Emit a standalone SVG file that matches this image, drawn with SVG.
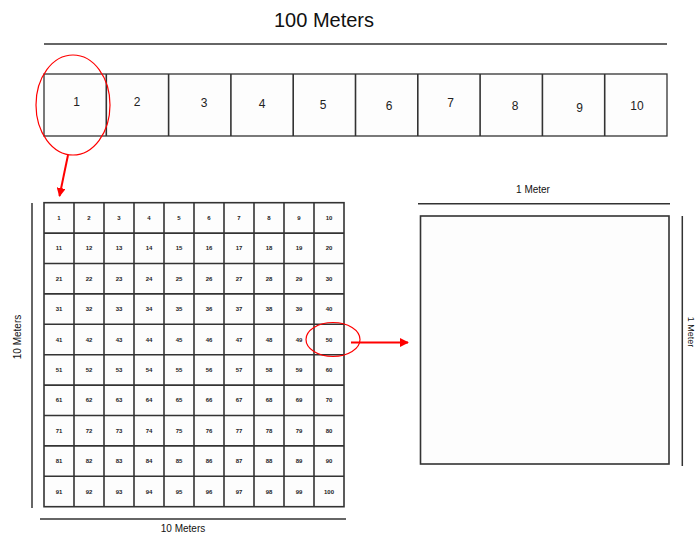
<svg xmlns="http://www.w3.org/2000/svg" width="696" height="535" viewBox="0 0 696 535">
<style>
.t{font-family:"Liberation Sans",Arial,sans-serif;fill:#111}
.box{fill:#fdfdfd;stroke:#333;stroke-width:1.3}
.ln{stroke:#333;stroke-width:1.5;fill:none}
.gl{stroke:#333;stroke-width:1.6}
.n{font-family:"Liberation Sans",Arial,sans-serif;font-size:6px;font-weight:bold;fill:#222;text-anchor:middle}
.tn{font-family:"Liberation Sans",Arial,sans-serif;font-size:12px;fill:#222;text-anchor:middle}
.red{stroke:#f00;fill:none}
</style>
<defs>
<marker id="ah" viewBox="0 0 10 10" refX="9" refY="5" markerWidth="4.5" markerHeight="4.5" orient="auto" markerUnits="strokeWidth"><path d="M0,0 L10,5 L0,10 z" fill="#f00"/></marker>
</defs>
<rect width="696" height="535" fill="#fff"/>
<g id="title">
<text class="t" x="324" y="27" font-size="20" text-anchor="middle">100 Meters</text>
<line class="ln" x1="44" y1="44" x2="667" y2="44"/>
</g>
<g id="strip">
<rect class="box" x="44" y="74" width="623" height="62"/>
<g class="gl">
<line x1="106.3" y1="74" x2="106.3" y2="136"/><line x1="168.6" y1="74" x2="168.6" y2="136"/><line x1="230.9" y1="74" x2="230.9" y2="136"/><line x1="293.2" y1="74" x2="293.2" y2="136"/><line x1="355.5" y1="74" x2="355.5" y2="136"/><line x1="417.8" y1="74" x2="417.8" y2="136"/><line x1="480.1" y1="74" x2="480.1" y2="136"/><line x1="542.4" y1="74" x2="542.4" y2="136"/><line x1="604.7" y1="74" x2="604.7" y2="136"/>
</g>
<text class="tn" x="76.5" y="106">1</text><text class="tn" x="137" y="106">2</text><text class="tn" x="204" y="107">3</text><text class="tn" x="262" y="108">4</text><text class="tn" x="323" y="109">5</text><text class="tn" x="389" y="110">6</text><text class="tn" x="450.5" y="107">7</text><text class="tn" x="515" y="110">8</text><text class="tn" x="579.5" y="112">9</text><text class="tn" x="637" y="110">10</text>
</g>
<g id="grid">
<rect x="44" y="202.7" width="300" height="304" fill="#fdfdfd" stroke="#333" stroke-width="1.6"/>
<g class="gl">
<line x1="74" y1="202.7" x2="74" y2="506.7"/><line x1="104" y1="202.7" x2="104" y2="506.7"/><line x1="134" y1="202.7" x2="134" y2="506.7"/><line x1="164" y1="202.7" x2="164" y2="506.7"/><line x1="194" y1="202.7" x2="194" y2="506.7"/><line x1="224" y1="202.7" x2="224" y2="506.7"/><line x1="254" y1="202.7" x2="254" y2="506.7"/><line x1="284" y1="202.7" x2="284" y2="506.7"/><line x1="314" y1="202.7" x2="314" y2="506.7"/>
<line x1="44" y1="233.1" x2="344" y2="233.1"/><line x1="44" y1="263.5" x2="344" y2="263.5"/><line x1="44" y1="293.9" x2="344" y2="293.9"/><line x1="44" y1="324.3" x2="344" y2="324.3"/><line x1="44" y1="354.7" x2="344" y2="354.7"/><line x1="44" y1="385.1" x2="344" y2="385.1"/><line x1="44" y1="415.5" x2="344" y2="415.5"/><line x1="44" y1="445.9" x2="344" y2="445.9"/><line x1="44" y1="476.3" x2="344" y2="476.3"/>
</g>
<g class="n">
<text x="59" y="220">1</text><text x="89" y="220">2</text><text x="119" y="220">3</text><text x="149" y="220">4</text><text x="179" y="220">5</text><text x="209" y="220">6</text><text x="239" y="220">7</text><text x="269" y="220">8</text><text x="299" y="220">9</text><text x="329" y="220">10</text>
<text x="59" y="250.4">11</text><text x="89" y="250.4">12</text><text x="119" y="250.4">13</text><text x="149" y="250.4">14</text><text x="179" y="250.4">15</text><text x="209" y="250.4">16</text><text x="239" y="250.4">17</text><text x="269" y="250.4">18</text><text x="299" y="250.4">19</text><text x="329" y="250.4">20</text>
<text x="59" y="280.8">21</text><text x="89" y="280.8">22</text><text x="119" y="280.8">23</text><text x="149" y="280.8">24</text><text x="179" y="280.8">25</text><text x="209" y="280.8">26</text><text x="239" y="280.8">27</text><text x="269" y="280.8">28</text><text x="299" y="280.8">29</text><text x="329" y="280.8">30</text>
<text x="59" y="311.2">31</text><text x="89" y="311.2">32</text><text x="119" y="311.2">33</text><text x="149" y="311.2">34</text><text x="179" y="311.2">35</text><text x="209" y="311.2">36</text><text x="239" y="311.2">37</text><text x="269" y="311.2">38</text><text x="299" y="311.2">39</text><text x="329" y="311.2">40</text>
<text x="59" y="341.6">41</text><text x="89" y="341.6">42</text><text x="119" y="341.6">43</text><text x="149" y="341.6">44</text><text x="179" y="341.6">45</text><text x="209" y="341.6">46</text><text x="239" y="341.6">47</text><text x="269" y="341.6">48</text><text x="299" y="341.6">49</text><text x="329" y="341.6">50</text>
<text x="59" y="372">51</text><text x="89" y="372">52</text><text x="119" y="372">53</text><text x="149" y="372">54</text><text x="179" y="372">55</text><text x="209" y="372">56</text><text x="239" y="372">57</text><text x="269" y="372">58</text><text x="299" y="372">59</text><text x="329" y="372">60</text>
<text x="59" y="402.4">61</text><text x="89" y="402.4">62</text><text x="119" y="402.4">63</text><text x="149" y="402.4">64</text><text x="179" y="402.4">65</text><text x="209" y="402.4">66</text><text x="239" y="402.4">67</text><text x="269" y="402.4">68</text><text x="299" y="402.4">69</text><text x="329" y="402.4">70</text>
<text x="59" y="432.8">71</text><text x="89" y="432.8">72</text><text x="119" y="432.8">73</text><text x="149" y="432.8">74</text><text x="179" y="432.8">75</text><text x="209" y="432.8">76</text><text x="239" y="432.8">77</text><text x="269" y="432.8">78</text><text x="299" y="432.8">79</text><text x="329" y="432.8">80</text>
<text x="59" y="463.2">81</text><text x="89" y="463.2">82</text><text x="119" y="463.2">83</text><text x="149" y="463.2">84</text><text x="179" y="463.2">85</text><text x="209" y="463.2">86</text><text x="239" y="463.2">87</text><text x="269" y="463.2">88</text><text x="299" y="463.2">89</text><text x="329" y="463.2">90</text>
<text x="59" y="493.6">91</text><text x="89" y="493.6">92</text><text x="119" y="493.6">93</text><text x="149" y="493.6">94</text><text x="179" y="493.6">95</text><text x="209" y="493.6">96</text><text x="239" y="493.6">97</text><text x="269" y="493.6">98</text><text x="299" y="493.6">99</text><text x="329" y="493.6">100</text>
</g>
<line class="ln" x1="32" y1="203" x2="32" y2="508"/>
<text class="t" font-size="10" text-anchor="middle" transform="translate(21,337) rotate(-90)">10 Meters</text>
<line class="ln" x1="40" y1="519" x2="346" y2="519"/>
<text class="t" font-size="10" text-anchor="middle" x="183" y="531.5">10 Meters</text>
</g>
<g id="meter">
<rect x="420.5" y="216" width="248.5" height="248" fill="#fdfdfd" stroke="#333" stroke-width="1.6"/>
<line class="ln" x1="418" y1="203.7" x2="670" y2="203.7"/>
<text class="t" font-size="10" text-anchor="middle" x="533" y="193">1 Meter</text>
<line class="ln" x1="682.3" y1="216" x2="682.3" y2="466"/>
<text class="t" font-size="9" text-anchor="middle" transform="translate(687.5,332) rotate(90)">1 Meter</text>
</g>
<g id="connectors">
<ellipse class="red" cx="73" cy="105" rx="37" ry="50" stroke-width="1.2"/>
<line class="red" x1="68" y1="155" x2="59.5" y2="196" stroke-width="2" marker-end="url(#ah)"/>
<ellipse class="red" cx="333" cy="339.5" rx="27" ry="17" stroke-width="1.2"/>
<line class="red" x1="351" y1="342.5" x2="408" y2="342.5" stroke-width="2" marker-end="url(#ah)"/>
</g>
</svg>
